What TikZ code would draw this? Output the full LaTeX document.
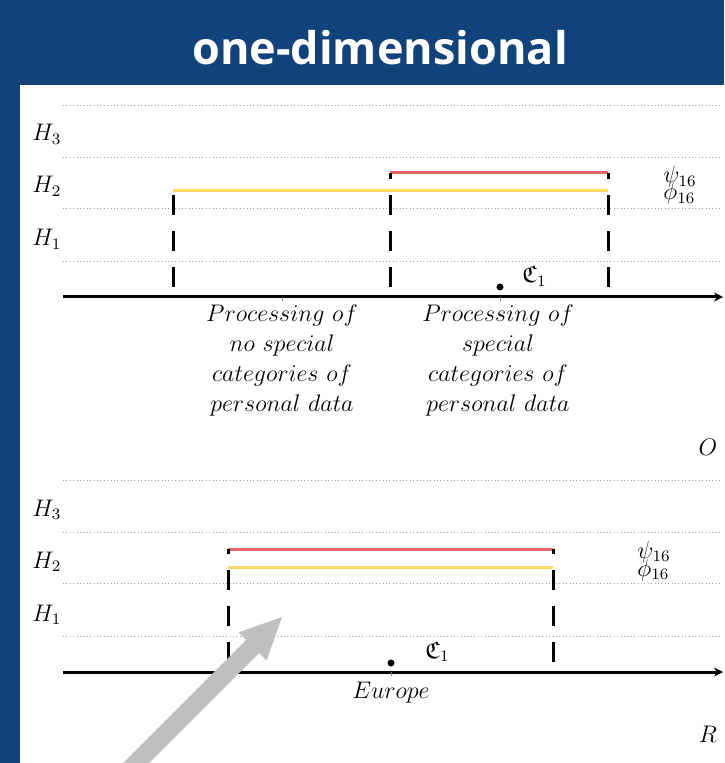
\documentclass[tikz,border=0pt]{standalone}
\usepackage{amssymb}
\usepackage{fontspec}
\newfontfamily\titlefont{Open Sans}
\usetikzlibrary{positioning,arrows.meta}
\definecolor{slideblue}{HTML}{11427A}
\definecolor{psired}{HTML}{E06666}
\definecolor{phiyellow}{HTML}{FFD966}
\definecolor{hintgray}{HTML}{BFBFBF}

\begin{document}
\begin{tikzpicture}[x=0.5pt,y=-0.5pt,
  % Text Styles
  titletext/.style={text=white, font=\titlefont\bfseries\fontsize{22.5}{27}\selectfont, anchor=base, inner sep=0pt},
  hlabel/.style={font=\fontsize{12}{14}\selectfont, anchor=base west, inner sep=0pt},
  fnlabel/.style={font=\fontsize{11.5}{12}\selectfont, anchor=base west, inner sep=0pt},
  caption/.style={font=\fontsize{12}{15}\selectfont, align=center, anchor=north, inner sep=0pt},
  % Line Styles
  levelline/.style={draw=gray!75, line width=0.4pt, dash pattern=on 0.5pt off 1.2pt},
  axisline/.style={line width=1.5pt, -{Stealth[length=4.5pt,width=4.5pt]}},
  boundline/.style={line width=1.5pt, dash pattern=on 10pt off 8pt, dash phase=13pt},
  psiline/.style={draw=psired, line width=1.5pt},
  philine/.style={draw=phiyellow, line width=1.5pt},
  tickline/.style={draw=gray, line width=0.3pt},
  % Arrow Styles
  hintarrow/.style={draw=hintgray, line width=9.2pt, -{Triangle[length=21.5pt,width=18pt]}},
]

% Slide frame
\fill[slideblue] (0,0) rectangle (724,763);
\fill[white] (20,85) rectangle (724,763);
\clip (0,0) rectangle (724,763);
\node[titletext] (title) at (380,65) {one-dimensional};

% Dimension O
\foreach \y in {105,157,208,261} \draw[levelline] (63,\y) -- (720,\y);
\node[hlabel] (O_H3) at (32,141) {$H_3$};
\node[hlabel] (O_H2) at (32,193) {$H_2$};
\node[hlabel] (O_H1) at (32,246) {$H_1$};
\coordinate (O_start) at (63,297);
\coordinate (O_end) at (723,297);
\draw[axisline] (O_start) -- (O_end);
\draw[tickline] (282,297) -- (282,301);
\draw[tickline] (500,297) -- (500,301);
\draw[philine] (173,191) -- (608,191);
\draw[psiline] (390,173) -- (608,173);
\draw[boundline] (173,297) -- (173,191);
\draw[boundline] (390,297) -- (390,173);
\draw[boundline] (608,297) -- (608,173);
\fill (500,287) circle (1.75pt);
\node[hlabel] (O_C1) at (522,283) {$\mathfrak{C}_1$};
\node[fnlabel] (O_psi) at (663,183) {$\psi_{16}$};
\node[fnlabel] (O_phi) at (663,200) {$\phi_{16}$};
\node[caption] (O_nospecial) at (282,304) {$Processing\ of$\\$no\ special$\\$categories\ of$\\$personal\ data$};
\node[caption] (O_special) at (498,304) {$Processing\ of$\\$special$\\$categories\ of$\\$personal\ data$};
\node[hlabel, anchor=base] (O_name) at (708,455) {$O$};

% Dimension R
\begin{scope}[shift={(0,375)}]
\foreach \y in {105,157,208,261} \draw[levelline] (63,\y) -- (720,\y);
\node[hlabel] (R_H3) at (32,141) {$H_3$};
\node[hlabel] (R_H2) at (32,193) {$H_2$};
\node[hlabel] (R_H1) at (32,246) {$H_1$};
\coordinate (R_start) at (63,297);
\coordinate (R_end) at (723,297);
\draw[axisline] (R_start) -- (R_end);
\draw[tickline] (391,297) -- (391,301);
\draw[philine] (228,192) -- (553,192);
\draw[psiline] (228,174) -- (553,174);
\draw[boundline] (228,297) -- (228,174);
\draw[boundline] (553,297) -- (553,174);
\fill (391,288) circle (1.75pt);
\node[hlabel] (R_C1) at (425,283) {$\mathfrak{C}_1$};
\node[fnlabel] (R_psi) at (637,183) {$\psi_{16}$};
\node[fnlabel] (R_phi) at (637,201) {$\phi_{16}$};
\node[caption] (R_europe) at (391,307) {$Europe$};
\node[hlabel, anchor=base] (R_name) at (708,367) {$R$};
\end{scope}

% Hint arrow
\coordinate (hint_from) at (110,789);
\coordinate (hint_to) at (283,616);
\draw[hintarrow] (hint_from) -- (hint_to);

\end{tikzpicture}
\end{document}
